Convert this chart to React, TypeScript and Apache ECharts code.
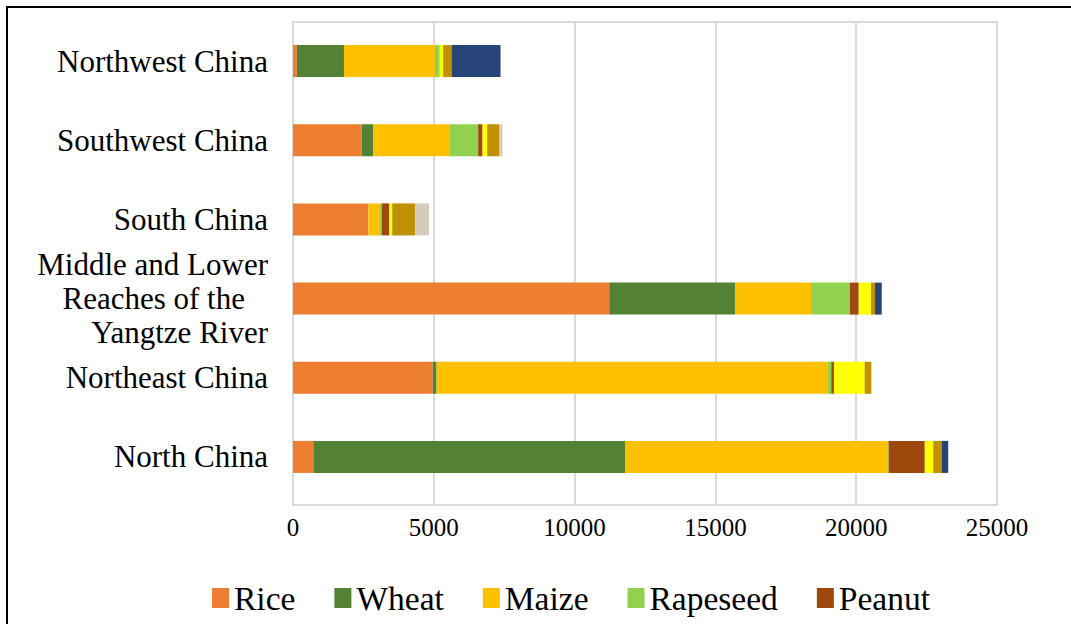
import React, { useEffect, useRef } from "react";
import * as echarts from "echarts";

const categories = [
  "North China",
  "Northeast China",
  "Middle and Lower Reaches of the Yangtze River",
  "South China",
  "Southwest China",
  "Northwest China",
];

const seriesNames = ["Rice", "Wheat", "Maize", "Rapeseed", "Peanut", "Soybean", "Potato", "Sugarcane", "Cotton"];
const legendNames = ["Rice", "Wheat", "Maize", "Rapeseed", "Peanut"];
const seriesColors = ["#ED7D31", "#548235", "#FFC000", "#92D050", "#9E480E", "#FFFF00", "#BF9000", "#D3CBBC", "#264478"];

const rice = [745, 4960, 11230, 2675, 2440, 140];
const wheat = [11045, 140, 4465, 0, 410, 1670];
const maize = [9315, 13895, 2700, 415, 2720, 3230];
const rapeseed = [50, 120, 1385, 60, 1005, 170];
const peanut = [1280, 95, 310, 270, 155, 0];
const soybean = [300, 1090, 437, 105, 165, 120];
const potato = [295, 238, 142, 805, 425, 300];
const sugarcane = [0, 0, 0, 500, 120, 0];
const cotton = [238, 0, 238, 0, 0, 1740];

const seriesValues = [rice, wheat, maize, rapeseed, peanut, soybean, potato, sugarcane, cotton];

const xTicks = { min: 0, max: 25000, interval: 5000 };

const FONT = "'Liberation Serif', 'Times New Roman', serif";

export default function App() {
  const ref = useRef<HTMLDivElement>(null);
  useEffect(() => {
    document.body.style.margin = "0";
    if (!ref.current) return;
    const chart = echarts.init(ref.current, null, { renderer: "svg" });
    const grid = "#D9D9D9";
    chart.setOption({
      animation: false,
      backgroundColor: "#ffffff",
      grid: [
        { left: 293, width: 704, top: 22, height: 483, show: true, borderColor: grid, borderWidth: 2, backgroundColor: "transparent" },
        { left: 293, width: 704, top: 21.5, height: 475 },
      ],
      xAxis: [
        {
          type: "value",
          gridIndex: 0,
          min: xTicks.min,
          max: xTicks.max,
          interval: xTicks.interval,
          axisLine: { show: false },
          axisTick: { show: false },
          splitLine: { show: true, lineStyle: { color: grid, width: 2 } },
          axisLabel: { fontFamily: FONT, fontSize: 25, color: "#000", margin: 10, formatter: (v: number) => String(v) },
        },
        {
          type: "value",
          gridIndex: 1,
          min: xTicks.min,
          max: xTicks.max,
          interval: xTicks.interval,
          show: false,
          splitLine: { show: false },
        },
      ],
      yAxis: [
        { type: "value", gridIndex: 0, show: false, splitLine: { show: false } },
        {
          type: "category",
          gridIndex: 1,
          data: categories,
          axisLine: { show: false },
          axisTick: { show: false },
          splitLine: { show: false },
          axisLabel: {
            fontFamily: FONT,
            fontSize: 31,
            color: "#000",
            margin: 25,
            formatter: (v: string) =>
              v.startsWith("Middle")
                ? "{a|Middle and Lower}\n{b|Reaches of the}\n{a|Yangtze River}"
                : v,
            rich: {
              a: { fontFamily: FONT, fontSize: 31, color: "#000", lineHeight: 34 },
              b: { fontFamily: FONT, fontSize: 31, color: "#000", lineHeight: 34, padding: [0, 23, 0, 0] },
            },
          },
        },
      ],
      legend: {
        data: legendNames,
        left: 207,
        top: 576,
        itemWidth: 17,
        itemHeight: 20,
        itemGap: 39,
        icon: "rect",
        textStyle: { fontFamily: FONT, fontSize: 33.5, color: "#000" },
      },
      graphic: [
        { type: "line", shape: { x1: 7, y1: 6, x2: 7, y2: 624 }, style: { stroke: "#000", lineWidth: 2 }, z: 100 },
        { type: "line", shape: { x1: 6, y1: 7, x2: 1071, y2: 7 }, style: { stroke: "#000", lineWidth: 2 }, z: 100 },
      ],
      series: seriesNames.map((name, i) => ({
        name,
        type: "bar",
        stack: "total",
        xAxisIndex: 1,
        yAxisIndex: 1,
        barWidth: 32,
        itemStyle: { color: seriesColors[i] },
        data: seriesValues[i],
      })),
    });
    return () => chart.dispose();
  }, []);
  return <div ref={ref} style={{ width: 1071, height: 624 }} />;
}
